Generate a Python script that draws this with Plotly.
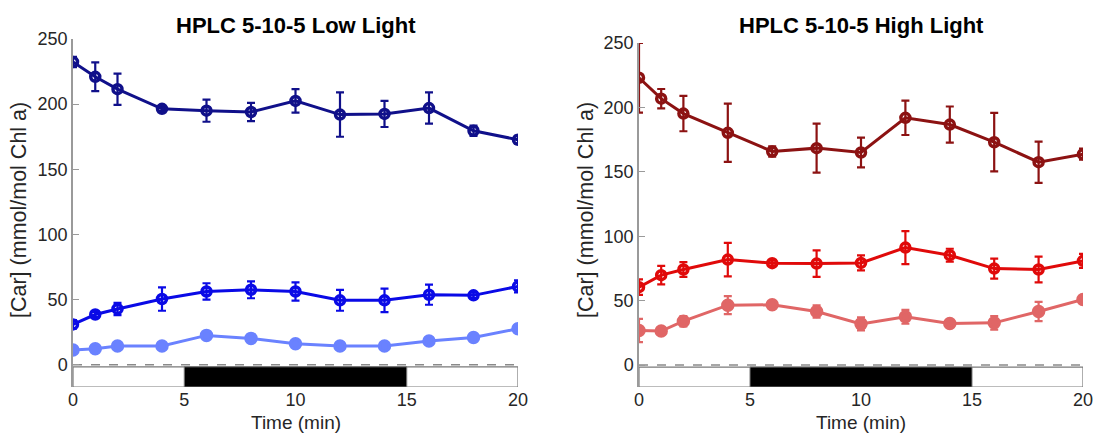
import plotly.graph_objects as go

# ---------------- data ----------------
time_min = [0, 1, 2, 4, 6, 8, 10, 12, 14, 16, 18, 20]

# Low light panel
ll_dark = [232.4, 221, 211.5, 196.4, 195, 194, 202.5, 192, 192.5, 197, 179.6, 172.7]
ll_dark_err = [4, 11, 12, 1.5, 8.5, 7, 9, 17, 10, 12, 4, 3]
ll_mid = [31, 38.6, 42.9, 50.5, 56.3, 57.6, 56.3, 49.5, 49.5, 53.8, 53.3, 60.2]
ll_mid_err = [3.3, 2, 4.7, 9, 6.3, 6.5, 7, 8, 9, 7.7, 2, 4.6]
ll_light = [11.4, 12.4, 14.5, 14.5, 22.6, 20.3, 16.2, 14.5, 14.5, 18.3, 21, 27.7]
ll_light_err = [1, 1, 1, 1, 2.5, 1, 2, 1, 2, 1, 3, 3]

# High light panel
hl_dark = [223, 206.8, 195.2, 180.3, 165.8, 168.4, 165, 191.9, 186.7, 173, 157.5, 163.7]
hl_dark_err = [27, 7.5, 13.7, 22.6, 4, 19, 11.6, 13.3, 14, 22.7, 16, 4.3]
hl_mid = [60.5, 69.8, 74.2, 81.9, 79.1, 78.8, 79.3, 91.2, 85.3, 74.9, 74.2, 80.9]
hl_mid_err = [6, 7.2, 5.8, 13, 2, 10.3, 5.8, 12.8, 5, 7.8, 10, 5.4]
hl_light = [26.9, 26.4, 34.1, 46.5, 46.8, 41.6, 32, 37.5, 32.3, 32.8, 41.6, 50.9]
hl_light_err = [9, 1, 4, 7, 1, 4.8, 5, 5.4, 1, 5.2, 7.4, 2.6]

titles = ["HPLC 5-10-5 Low Light", "HPLC 5-10-5 High Light"]
x_title = "Time (min)"
y_title = "[Car] (mmol/mol Chl a)"
y_ticks = [0, 50, 100, 150, 200, 250]
x_ticks = [0, 5, 10, 15, 20]
dark_phase = [5, 15]
t_start, t_end = 0, 20
y_min, y_max = -17, 250
bar_top, bar_bot = -1.5, -17

FONT = "Liberation Sans, Arial, Helvetica, sans-serif"

fig = go.Figure()


def add_series(x, y, err, color, xa, ya, filled=False):
    fig.add_trace(go.Scatter(
        x=x, y=y, mode="lines+markers",
        line=dict(color=color, width=3),
        marker=dict(symbol="circle" if filled else "circle-open", size=10 if filled else 9,
                    color=color, line=dict(color=color, width=3.5)),
        error_y=dict(type="data", array=err, visible=True, color=color, thickness=2.2, width=4),
        xaxis=xa, yaxis=ya, showlegend=False, hoverinfo="x+y",
    ))


add_series(time_min, ll_dark, ll_dark_err, "#10108a", "x", "y")
add_series(time_min, ll_mid, ll_mid_err, "#0a0ae6", "x", "y")
add_series(time_min, ll_light, ll_light_err, "#6a82ff", "x", "y", filled=True)

add_series(time_min, hl_dark, hl_dark_err, "#8c1212", "x2", "y2")
add_series(time_min, hl_mid, hl_mid_err, "#e00a0a", "x2", "y2")
add_series(time_min, hl_light, hl_light_err, "#e06666", "x2", "y2", filled=True)

H = 434
W = 1093
xdom = [[73 / W, 518 / W], [639 / W, 1083 / W]]
ydom = [[1 - 387 / H, 1 - 39 / H], [1 - 387 / H, 1 - 43 / H]]

axis_common_x = dict(range=[t_start, t_end], tickvals=x_ticks, showgrid=False, zeroline=False,
                     showline=False, ticks="", automargin=False, ticklabeloverflow="allow",
                     tickfont=dict(family=FONT, size=18, color="#262626"))
axis_common_y = dict(range=[y_min, y_max], tickvals=y_ticks, showgrid=False, zeroline=False,
                     showline=True, linecolor="#9a9a9a", linewidth=1.5, ticks="inside", ticklen=6,
                     tickcolor="#9a9a9a", tickwidth=1.2, automargin=False, ticklabeloverflow="allow",
                     tickfont=dict(family=FONT, size=18, color="#262626"))

shapes = []
annotations = []
for i, (xr, yr) in enumerate([("x", "y"), ("x2", "y2")]):
    # dashed zero line
    shapes.append(dict(type="line", xref=xr, yref=yr, x0=t_start, x1=t_end, y0=0, y1=0,
                       line=dict(color="#8a8a8a", width=1.5, dash="dash"), layer="below"))
    # light/dark timeline bar
    shapes.append(dict(type="rect", xref=xr, yref=yr, x0=t_start, x1=t_end, y0=bar_bot, y1=bar_top,
                       fillcolor="white", line=dict(color="#7a7a7a", width=1.2)))
    shapes.append(dict(type="rect", xref=xr, yref=yr, x0=dark_phase[0], x1=dark_phase[1],
                       y0=bar_bot, y1=bar_top, fillcolor="black", line=dict(color="#7a7a7a", width=1)))
    cx = (xdom[i][0] + xdom[i][1]) / 2
    annotations.append(dict(text="<b>" + titles[i] + "</b>", xref="paper", yref="paper",
                            x=cx, y=1 - 25 / H, showarrow=False, xanchor="center", yanchor="middle",
                            font=dict(family=FONT, size=22, color="black")))
    annotations.append(dict(text=x_title, xref="paper", yref="paper",
                            x=cx, y=1 - 422 / H, showarrow=False, xanchor="center", yanchor="middle",
                            font=dict(family=FONT, size=19, color="#262626")))
    ylab_x = [19, 586][i] / W
    annotations.append(dict(text=y_title, xref="paper", yref="paper", textangle=-90,
                            x=ylab_x, y=1 - 210 / H, showarrow=False, xanchor="center", yanchor="middle",
                            font=dict(family=FONT, size=21.5, color="#262626")))

fig.update_layout(
    width=W, height=H, margin=dict(l=0, r=0, t=0, b=0, pad=0, autoexpand=False),
    paper_bgcolor="white", plot_bgcolor="white",
    xaxis=dict(domain=xdom[0], anchor="y", **axis_common_x),
    yaxis=dict(domain=ydom[0], anchor="x", **axis_common_y),
    xaxis2=dict(domain=xdom[1], anchor="y2", **axis_common_x),
    yaxis2=dict(domain=ydom[1], anchor="x2", **axis_common_y),
    shapes=shapes, annotations=annotations,
    font=dict(family=FONT),
)

fig.write_html("out.html")
